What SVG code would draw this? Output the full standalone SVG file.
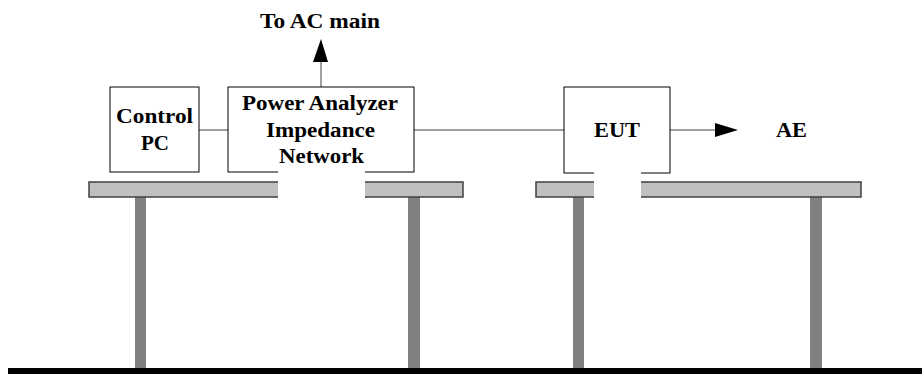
<svg xmlns="http://www.w3.org/2000/svg" width="922" height="374" viewBox="0 0 922 374">
<style>
.box{fill:#fff;stroke:#000;stroke-width:1}
.tbl{fill:#c0c0c0;stroke:#404040;stroke-width:1.5}
.leg{fill:#808080}
.gap{fill:#fff}
.t{font-family:"Liberation Serif","Times New Roman",serif;font-weight:bold;font-size:20px;fill:#000;text-anchor:middle}
.ln{stroke:#404040;stroke-width:1;fill:none}
</style>
<defs>
<marker id="ah" markerWidth="10" markerHeight="10" refX="10" refY="5" orient="auto" markerUnits="userSpaceOnUse" viewBox="0 0 10 10">
<path d="M0,0 L10,5 L0,10 z" fill="#000"/>
</marker>
</defs>
<rect x="0" y="0" width="922" height="374" fill="#fff"/>
<g id="tables">
<rect class="leg" x="135" y="197" width="11" height="172"/>
<rect class="leg" x="408" y="197" width="12" height="172"/>
<rect class="leg" x="573" y="197" width="11" height="172"/>
<rect class="leg" x="810" y="197" width="12" height="172"/>
<rect class="tbl" x="89" y="182" width="374" height="15"/>
<rect class="tbl" x="536" y="182" width="325" height="15"/>
</g>
<rect id="ground" x="8" y="368" width="914" height="6" fill="#000"/>
<g id="connectors">
<line class="ln" x1="199" y1="130" x2="228" y2="130"/>
<line class="ln" x1="414" y1="130" x2="564" y2="130"/>
<line class="ln" x1="670" y1="130" x2="715" y2="130"/>
<path d="M715,123 L738,130 L715,137 z" fill="#000"/>
<line class="ln" x1="321" y1="87" x2="321" y2="62"/>
<path d="M313,62 L321,39 L328,62 z" fill="#000"/>
</g>
<g id="control-pc">
<rect class="box" x="110" y="87" width="89" height="85"/>
<text class="t" x="154.5" y="123" textLength="77" lengthAdjust="spacingAndGlyphs">Control</text>
<text class="t" x="155" y="150" textLength="28" lengthAdjust="spacingAndGlyphs">PC</text>
</g>
<g id="power-analyzer">
<rect class="box" x="228" y="87" width="186" height="85"/>
<rect class="gap" x="278" y="168" width="87" height="30"/>
<text class="t" x="320" y="110" textLength="156" lengthAdjust="spacingAndGlyphs">Power Analyzer</text>
<text class="t" x="320.5" y="137" textLength="109" lengthAdjust="spacingAndGlyphs">Impedance</text>
<text class="t" x="321.5" y="163" textLength="85" lengthAdjust="spacingAndGlyphs">Network</text>
</g>
<g id="eut">
<rect class="box" x="564" y="87" width="106" height="86"/>
<rect class="gap" x="594" y="170" width="47" height="28"/>
<text class="t" x="617" y="137" textLength="46" lengthAdjust="spacingAndGlyphs">EUT</text>
</g>
<g id="ae">
<text class="t" x="791.5" y="137" textLength="31" lengthAdjust="spacingAndGlyphs">AE</text>
</g>
<g id="ac-main">
<text class="t" x="320" y="28" textLength="120" lengthAdjust="spacingAndGlyphs">To AC main</text>
</g>
</svg>
